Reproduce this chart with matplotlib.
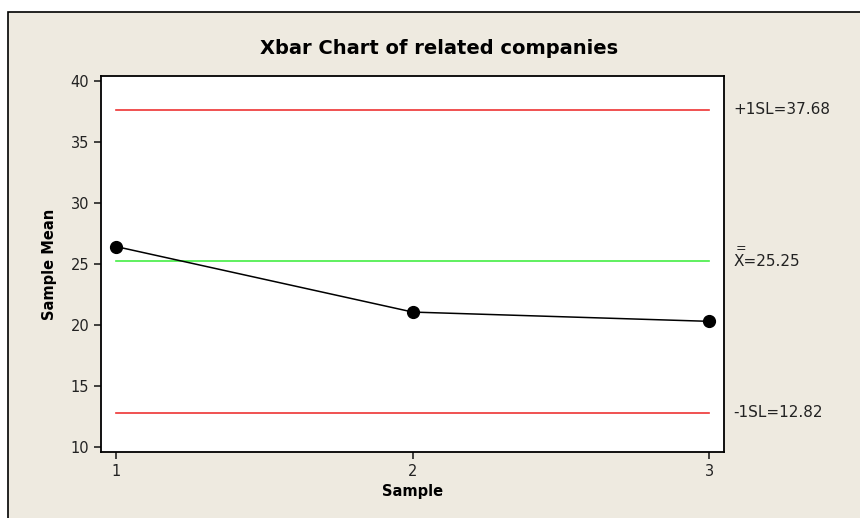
import matplotlib
matplotlib.use("Agg")
import matplotlib.pyplot as plt
from matplotlib.patches import Rectangle

# data
samples = [1, 2, 3]
sample_means = [26.45, 21.08, 20.32]
center_line = 25.25
upper_limit = 37.68
lower_limit = 12.82
y_ticks = [10, 15, 20, 25, 30, 35, 40]
x_ticks = [1, 2, 3]

bg = "#EEEAE0"
plt.rcParams['font.family'] = ['DejaVu Sans']

fig = plt.figure(figsize=(8.6, 5.18), dpi=100)
fig.patch.set_facecolor("white")

# beige panel with a black border on top and left
panel = Rectangle((8 / 860, -0.1), 1.2, 1 - 12 / 518 + 0.1, transform=fig.transFigure,
                  facecolor=bg, edgecolor="black", linewidth=1.2, zorder=-10)
fig.patches.append(panel)

ax = fig.add_axes([101 / 860, 1 - 452 / 518, 623 / 860, 376 / 518])
ax.set_facecolor("white")

ax.plot([samples[0], samples[-1]], [upper_limit, upper_limit], color="#EE3333", lw=1.2)
ax.plot([samples[0], samples[-1]], [lower_limit, lower_limit], color="#EE3333", lw=1.2)
ax.plot([samples[0], samples[-1]], [center_line, center_line], color="#44EE44", lw=1.2)
ax.plot(samples, sample_means, color="black", lw=1.1, marker="o", markersize=8.5)

ax.set_xlim(0.948, 3.05)
ax.set_ylim(9.6, 40.45)
ax.set_xticks(x_ticks)
ax.set_yticks(y_ticks)
ax.tick_params(direction="out", length=5, width=1.2, labelsize=10.5, colors="#222222")
for s in ax.spines.values():
    s.set_linewidth(1.3)

ax.set_xlabel("Sample", fontsize=10.5, fontweight="bold", labelpad=4)
ax.set_ylabel("Sample Mean", fontsize=10.5, fontweight="bold", labelpad=10)
fig.text(439 / 860, 1 - 49 / 518, "Xbar Chart of related companies", fontsize=14,
         fontweight="bold", ha="center", va="center")

# control limit labels right of the plot
ax.text(1.015, upper_limit, "+1SL=%.2f" % upper_limit, transform=ax.get_yaxis_transform(),
        fontsize=11, va="center", ha="left", color="#222222")
ax.text(1.015, center_line, "X=%.2f" % center_line, transform=ax.get_yaxis_transform(),
        fontsize=11, va="center", ha="left", color="#222222")
ax.text(1.0185, center_line + 1.05, "=", transform=ax.get_yaxis_transform(),
        fontsize=9, va="center", ha="left", color="#222222")
ax.text(1.015, lower_limit, "-1SL=%.2f" % lower_limit, transform=ax.get_yaxis_transform(),
        fontsize=11, va="center", ha="left", color="#222222")

fig.savefig("out.png", dpi=100, facecolor=fig.get_facecolor())
